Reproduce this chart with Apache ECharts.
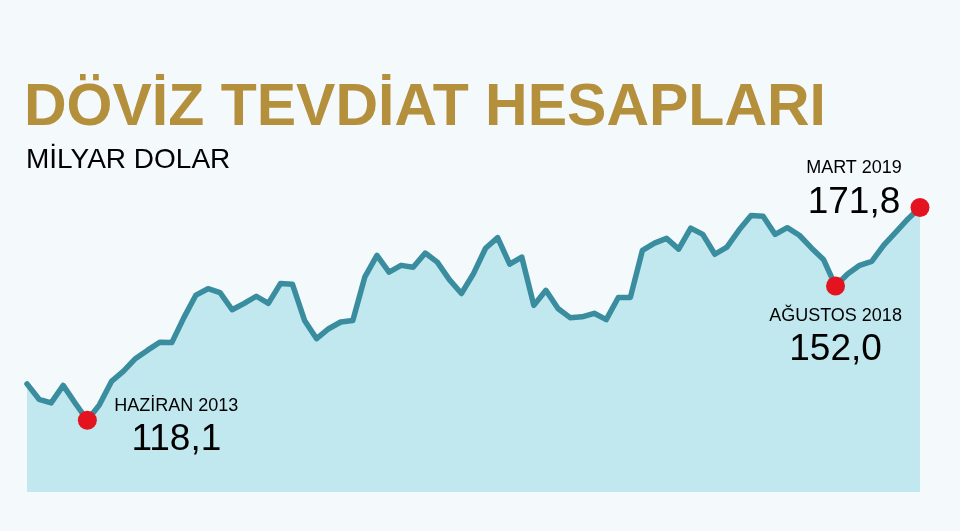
<!DOCTYPE html>
<html>
<head>
<meta charset="utf-8">
<script src="https://cdn.jsdelivr.net/npm/echarts@6/dist/echarts.min.js"></script>
<style>
html,body{margin:0;padding:0;background:#F4F9FC;}
#c{width:960px;height:531px;}
</style>
</head>
<body>
<div id="c"></div>
<script>
var months = [
'2013-01','2013-02','2013-03','2013-04','2013-05','2013-06','2013-07','2013-08','2013-09','2013-10','2013-11','2013-12',
'2014-01','2014-02','2014-03','2014-04','2014-05','2014-06','2014-07','2014-08','2014-09','2014-10','2014-11','2014-12',
'2015-01','2015-02','2015-03','2015-04','2015-05','2015-06','2015-07','2015-08','2015-09','2015-10','2015-11','2015-12',
'2016-01','2016-02','2016-03','2016-04','2016-05','2016-06','2016-07','2016-08','2016-09','2016-10','2016-11','2016-12',
'2017-01','2017-02','2017-03','2017-04','2017-05','2017-06','2017-07','2017-08','2017-09','2017-10','2017-11','2017-12',
'2018-01','2018-02','2018-03','2018-04','2018-05','2018-06','2018-07','2018-08','2018-09','2018-10','2018-11','2018-12',
'2019-01','2019-02','2019-03'
];
var deposits = [
127.3,123.4,122.5,126.9,122.4,118.1,122.0,127.9,130.5,133.7,135.8,137.8,
137.7,144.0,149.7,151.3,150.3,146.0,147.6,149.4,147.6,152.6,152.4,143.3,
138.7,141.2,142.9,143.3,154.3,159.7,155.5,157.2,156.7,160.3,158.0,153.6,
150.1,155.1,161.5,164.2,157.5,159.3,147.1,150.9,146.3,144.0,144.2,145.1,
143.5,149.1,149.1,161.0,162.8,164.0,161.3,166.6,165.0,160.0,161.8,166.1,
169.8,169.6,165.0,166.7,164.8,161.6,158.7,152.0,155.0,157.2,158.2,162.3,
165.6,168.9,171.8
];
var highlightMonths = ['2013-06','2018-08','2019-03'];
var highlightNames = ['HAZİRAN 2013','AĞUSTOS 2018','MART 2019'];
var titleText = 'DÖVİZ TEVDİAT HESAPLARI';
var subtitleText = 'MİLYAR DOLAR';

var labelOffsets = [[89, 5], [0, 49], [-66, -20]];

function fmt(v){ return v.toFixed(1).replace('.', ','); }

var scatterData = highlightMonths.map(function(m, k){
  var idx = months.indexOf(m);
  return {
    value: [m, deposits[idx]],
    label: {
      show: true,
      position: 'inside',
      offset: labelOffsets[k],
      formatter: '{a|' + highlightNames[k] + '}\n{b|' + fmt(deposits[idx]) + '}'
    }
  };
});

var chart = echarts.init(document.getElementById('c'));
chart.setOption({
  backgroundColor: '#F4F9FC',
  animation: false,
  title: [
    {text: titleText, left: 19, top: 74,
     textStyle: {fontFamily: 'Liberation Sans', fontWeight: 'bold', fontSize: 59, color: '#B5903C'}},
    {text: subtitleText, left: 21, top: 141,
     textStyle: {fontFamily: 'Liberation Sans', fontWeight: 'normal', fontSize: 28, color: '#000'}}
  ],
  grid: {left: 27, right: 40, top: 175, bottom: 39, containLabel: false},
  xAxis: {type: 'category', data: months, boundaryGap: false, show: false},
  yAxis: {type: 'value', min: 100, max: 180, show: false},
  series: [
    {
      type: 'line',
      data: deposits,
      symbol: 'none',
      lineStyle: {color: '#3A8D9E', width: 5.5, join: 'round', cap: 'round'},
      areaStyle: {color: '#C1E8EF', opacity: 1, origin: 'start'},
      z: 2
    },
    {
      type: 'scatter',
      data: scatterData,
      symbolSize: 19,
      itemStyle: {color: '#E3141F', opacity: 1},
      z: 5,
      label: {
        color: '#000',
        align: 'center',
        verticalAlign: 'middle',
        rich: {
          a: {fontFamily: 'Liberation Sans', fontSize: 18, color: '#000', lineHeight: 30, align: 'center'},
          b: {fontFamily: 'Liberation Sans', fontSize: 37, color: '#000', lineHeight: 38, align: 'center'}
        }
      }
    }
  ]
});
</script>
</body>
</html>
